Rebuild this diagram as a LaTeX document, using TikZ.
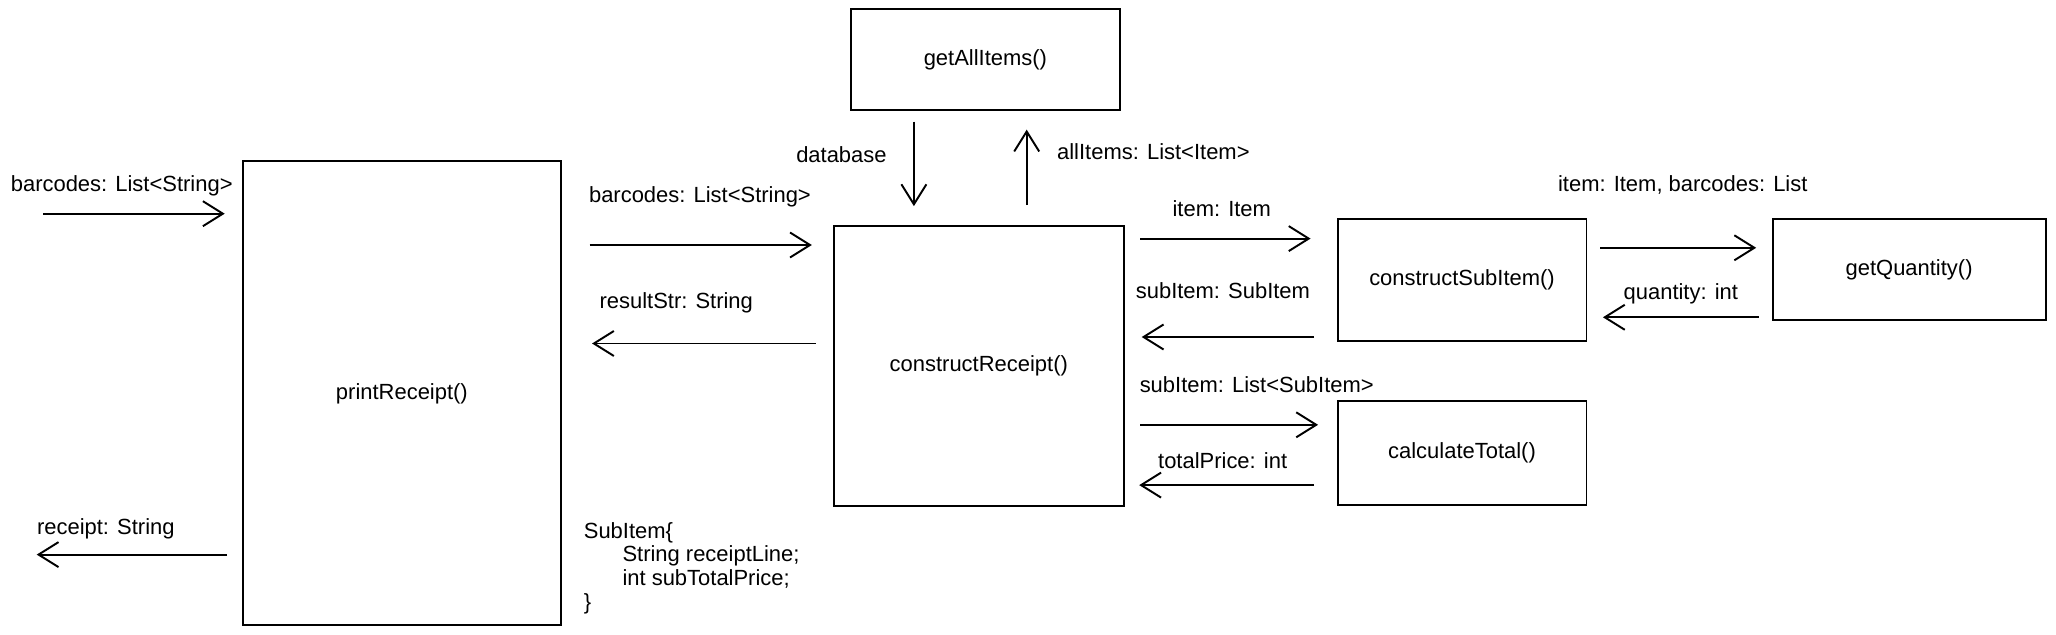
\documentclass[tikz,border=0pt]{standalone}
\usepackage{fontspec}
\setmainfont{Liberation Sans}
\usetikzlibrary{arrows.meta}

\tikzset{
  box/.style = {draw, rectangle, line width = 1.1pt, inner sep = 0pt},
  flow/.style = {line width = 1.1pt, -{Straight Barb[length = 4mm, width = 5mm, line width = 1.1pt]}},
  lbl/.style = {anchor = west, inner sep = 0pt}
}

\begin{document}
\begin{tikzpicture}[x = 0.02cm, y = -0.02cm, font = \fontsize{12.5}{13.5}\selectfont]
    \useasboundingbox (0, 0) rectangle (2056, 635);

    \node [box, minimum width = 6.37cm, minimum height = 9.28cm] (pr) at (401.9, 393.4) {printReceipt()};
    \node [box, minimum width = 5.80cm, minimum height = 5.61cm] (cr) at (978.8, 365.8) {constructReceipt()};
    \node [box, minimum width = 5.38cm, minimum height = 2.02cm] (gai) at (985.4, 59.7) {getAllItems()};
    \node [box, minimum width = 4.98cm, minimum height = 2.44cm] (csi) at (1462, 280) {constructSubItem()};
    \node [box, minimum width = 4.98cm, minimum height = 2.07cm] (ct) at (1462, 453) {calculateTotal()};
    \node [box, minimum width = 5.46cm, minimum height = 2.02cm] (gq) at (1909.1, 269.5) {getQuantity()};

    \coordinate (in) at (43.3, 213.7);
    \coordinate (out) at (36.7, 554.6);

    \draw [flow, shorten >= 0.34cm] (in) -- (pr.west |- in);
    \node [lbl] (lin) at (10.5, 186.2) {barcodes: List<String>};
    \draw [flow, shorten <= 0.29cm] (pr.west |- out) -- (out);
    \node [lbl] (lout) at (36.7, 528.4) {receipt: String};

    \draw [flow, shorten <= 0.55cm, shorten >= 0.42cm] (pr.east |- 0, 245) -- (cr.west |- 0, 245);
    \node [lbl] (lbar) at (588.7, 196.7) {barcodes: List<String>};
    \draw [flow, shorten <= 0.34cm, shorten >= 0.6cm] (cr.west |- 0, 343.5) -- (pr.east |- 0, 343.5);
    \node [lbl] (lres) at (599.2, 302.6) {resultStr: String};

    \node [anchor = north west, inner sep = 0pt, align = left] (sub) at (583.5, 522) {SubItem\{\\
      \hspace*{22pt}String receiptLine;\\
      \hspace*{22pt}int subTotalPrice;\\
      \}};

    \draw [flow, shorten <= 0.21cm, shorten >= 0.37cm] (gai.south -| 913.9, 0) -- (cr.north -| 913.9, 0);
    \node [lbl] (ldb) at (795.9, 154.7) {database};
    \draw [flow, shorten <= 0.39cm, shorten >= 0.37cm] (cr.north -| 1026.7, 0) -- (gai.south -| 1026.7, 0);
    \node [lbl] (lall) at (1056.8, 152.1) {allItems: List<Item>};

    \draw [flow, shorten <= 0.31cm, shorten >= 0.52cm] (cr.east |- 0, 238.6) -- (csi.west |- 0, 238.6);
    \node [lbl] (litem) at (1172.2, 208.5) {item: Item};
    \draw [flow, shorten <= 0.45cm, shorten >= 0.34cm] (csi.west |- 0, 337) -- (cr.east |- 0, 337);
    \node [lbl] (lsub) at (1135.5, 290.8) {subItem: SubItem};

    \draw [flow, shorten <= 0.31cm, shorten >= 0.37cm] (cr.east |- 0, 424.8) -- (ct.west |- 0, 424.8);
    \node [lbl] (llist) at (1139.4, 384.2) {subItem: List<SubItem>};
    \draw [flow, shorten <= 0.45cm, shorten >= 0.29cm] (ct.west |- 0, 485.1) -- (cr.east |- 0, 485.1);
    \node [lbl] (ltot) at (1157.8, 460.2) {totalPrice: int};

    \draw [flow, shorten <= 0.26cm, shorten >= 0.31cm] (csi.east |- 0, 247.8) -- (gq.west |- 0, 247.8);
    \node [lbl] (lib) at (1557.7, 184.9) {item: Item, barcodes: List};
    \draw [flow, shorten <= 0.26cm, shorten >= 0.31cm] (gq.west |- 0, 317.3) -- (csi.east |- 0, 317.3);
    \node [lbl] (lqty) at (1623.3, 293.7) {quantity: int};
  \end{tikzpicture}
\end{document}
